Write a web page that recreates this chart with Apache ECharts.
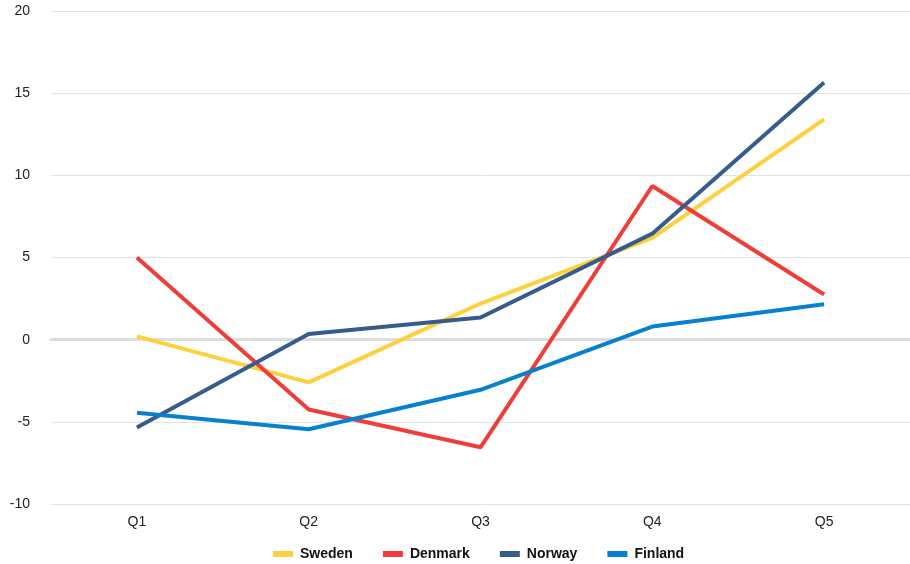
<!DOCTYPE html>
<html>
<head>
<meta charset="utf-8">
<script src="https://cdn.jsdelivr.net/npm/echarts@6/dist/echarts.min.js"></script>
<style>html,body{margin:0;padding:0;background:#fff;}#chart{width:910px;height:564px;}</style>
</head>
<body>
<div id="chart"></div>
<script>
var categories = ['Q1', 'Q2', 'Q3', 'Q4', 'Q5'];
var sweden = [0.2, -2.6, 2.2, 6.2, 13.4];
var denmark = [5.0, -4.25, -6.55, 9.35, 2.75];
var norway = [-5.35, 0.35, 1.35, 6.45, 15.65];
var finland = [-4.45, -5.45, -3.05, 0.8, 2.15];
var seriesNames = ['Sweden', 'Denmark', 'Norway', 'Finland'];
var seriesColors = ['#FFD03D', '#EF3E3A', '#365C8D', '#0780CE'];
var seriesData = [sweden, denmark, norway, finland];

var chart = echarts.init(document.getElementById('chart'), null, {renderer: 'canvas'});
var font = 'Liberation Sans, Arial, sans-serif';
chart.setOption({
  animation: false,
  color: seriesColors,
  textStyle: {fontFamily: font},
  grid: {left: 51, right: 0, top: 11, bottom: 60, containLabel: false},
  legend: {
    top: 542,
    left: 268,
    icon: 'rect',
    itemWidth: 20,
    itemHeight: 6,
    itemGap: 30,
    textStyle: {fontFamily: font, fontSize: 14, fontWeight: 'bold', color: '#111', padding: [0, 0, 0, 2]},
    data: seriesNames
  },
  xAxis: {
    type: 'category',
    data: categories,
    boundaryGap: true,
    z: 3,
    axisLine: {show: true, onZero: true, lineStyle: {color: '#dddddd', width: 3}},
    axisTick: {show: false},
    axisLabel: {color: '#222', fontSize: 14, fontFamily: font, margin: 11},
    splitLine: {show: false}
  },
  yAxis: {
    type: 'value',
    min: -10,
    max: 20,
    interval: 5,
    axisLine: {show: false},
    axisTick: {show: false},
    axisLabel: {color: '#222', fontSize: 14, fontFamily: font, margin: 21},
    splitLine: {show: true, lineStyle: {color: '#e3e3e3', width: 1}}
  },
  series: seriesNames.map(function (n, i) {
    return {
      name: n,
      type: 'line',
      data: seriesData[i],
      symbol: 'none',
      lineStyle: {width: 4, color: seriesColors[i]},
      itemStyle: {color: seriesColors[i]}
    };
  })
});
</script>
</body>
</html>
